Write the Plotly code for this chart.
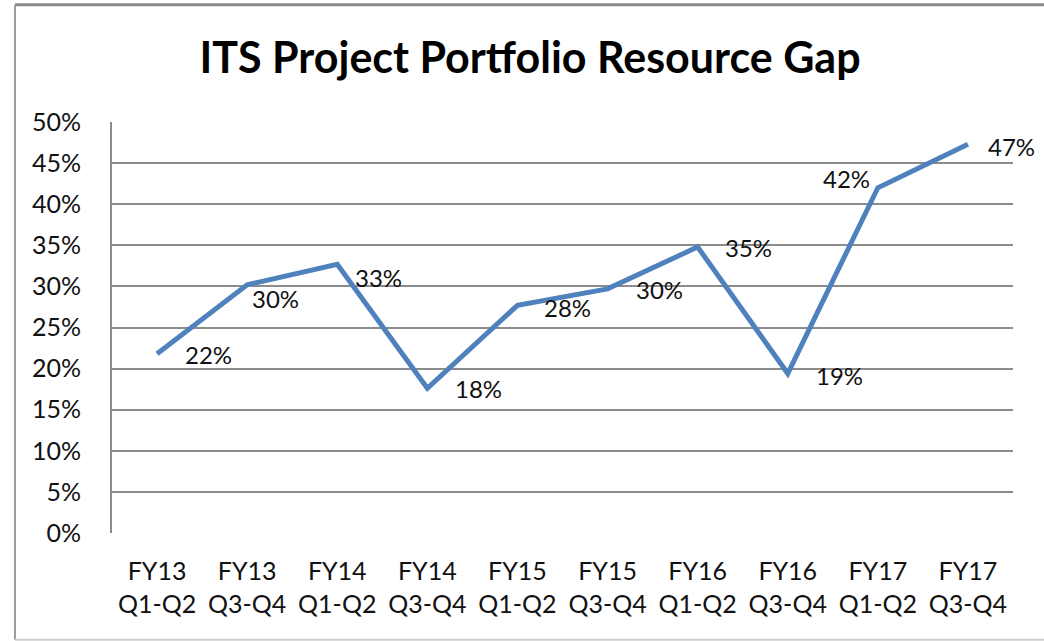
import plotly.graph_objects as go

categories = ["FY13<br>Q1-Q2", "FY13<br>Q3-Q4", "FY14<br>Q1-Q2", "FY14<br>Q3-Q4",
              "FY15<br>Q1-Q2", "FY15<br>Q3-Q4", "FY16<br>Q1-Q2", "FY16<br>Q3-Q4",
              "FY17<br>Q1-Q2", "FY17<br>Q3-Q4"]
gap_values = [0.218, 0.302, 0.327, 0.176, 0.277, 0.297, 0.348, 0.194, 0.420, 0.473]
y_ticks = [0, 0.05, 0.10, 0.15, 0.20, 0.25, 0.30, 0.35, 0.40, 0.45, 0.50]

# label placement styles (anchor, x shift px, y shift px)
label_anchor = ["left"] * 8 + ["right", "left"]
label_xshift = [26, 3, 16, 26, 25, 26, 25, 26, -6, 18]
label_yshift = [-1, -14, -13, 0, -2, -1, -1, -2, 9, -2]

FONT = "Lato, Calibri, Carlito, sans-serif"
GRID = "#8c8c8c"
TXT = "#111111"

fig = go.Figure()
fig.add_trace(go.Scatter(
    x=categories, y=gap_values, mode="lines",
    line=dict(color="#4F81BD", width=5),
    hoverinfo="skip", showlegend=False,
))

for i, (c, v) in enumerate(zip(categories, gap_values)):
    fig.add_annotation(
        x=c, y=v, xref="x", yref="y",
        text=f"{round(v * 100):d}%", showarrow=False,
        xanchor=label_anchor[i], yanchor="middle",
        xshift=label_xshift[i], yshift=label_yshift[i],
        font=dict(family=FONT, size=24, color=TXT),
    )

fig.update_layout(
    width=1044, height=641,
    margin=dict(l=112, r=31, t=122, b=108, autoexpand=False),
    paper_bgcolor="white", plot_bgcolor="white",
    title=dict(
        text="<b>ITS Project Portfolio Resource Gap</b>",
        x=0.464, xanchor="center", xref="paper",
        y=0.91, yanchor="middle", yref="container",
        font=dict(family=FONT, size=43, color="#000000"),
    ),
    font=dict(family=FONT, size=24, color=TXT),
)

fig.update_xaxes(
    range=[-0.5, 9.5], automargin=False,
    showgrid=False, showline=False, zeroline=False,
    ticks="", tickfont=dict(family=FONT, size=25, color=TXT),
    ticklabelstandoff=21,
)
fig.update_yaxes(
    range=[0, 0.5], tickvals=y_ticks, tickformat=".0%", automargin=False,
    showgrid=True, gridcolor=GRID, gridwidth=2,
    showline=True, linecolor=GRID, linewidth=2,
    zeroline=False, ticks="",
    tickfont=dict(family=FONT, size=25, color=TXT),
    ticklabelstandoff=24,
)

# chart border
fig.add_shape(type="line", xref="paper", yref="paper",
              x0=-0.1077, x1=1.05, y0=1.285, y1=1.285,
              line=dict(color="#8a8a8a", width=3))
fig.add_shape(type="line", xref="paper", yref="paper",
              x0=-0.1077, x1=-0.1077, y0=-0.26, y1=1.285,
              line=dict(color="#9a9a9a", width=2))
fig.add_shape(type="line", xref="paper", yref="paper",
              x0=-0.1077, x1=1.05, y0=-0.26, y1=-0.26,
              line=dict(color="#d0d0d0", width=2))

fig.write_html(
    "out.html",
    config={"displayModeBar": False},
    post_script="document.body.style.margin='0';document.body.style.overflow='hidden';",
)
